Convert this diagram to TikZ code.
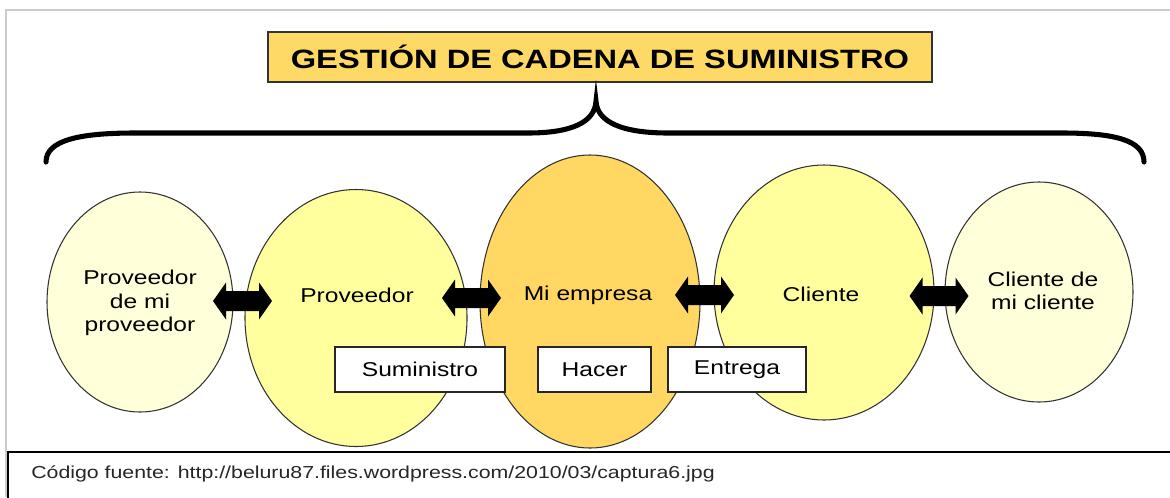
\documentclass[tikz,border=0pt]{standalone}
\usepackage{fontspec}
\setmainfont{Liberation Sans}[FakeStretch=1.23]
\usetikzlibrary{shapes.geometric}
\definecolor{palecream}{HTML}{FFFFDA}
\definecolor{lightyel}{HTML}{FFFF9E}
\definecolor{gold}{HTML}{FFD762}
\definecolor{titlegold}{HTML}{FFD966}
\definecolor{framegray}{HTML}{CCCCCC}
\begin{document}
\begin{tikzpicture}[x=0.75pt,y=-0.75pt,
  ell/.style={ellipse, draw=black!80, line width=0.8pt, inner sep=0pt},
  lbl/.style={font=\fontsize{15}{17.6}\selectfont, align=center, inner sep=0pt},
  stagebox/.style={draw=black!85, line width=0.8pt, fill=white, inner sep=0pt,
    minimum height=33.75pt, font=\fontsize{15}{17.6}\selectfont},
  dblarrow/.pic={\fill[black] (-29.5,0) -- (-16.5,-18.5) -- (-16.5,-10) -- (16.5,-10)
      -- (16.5,-18.5) -- (29.5,0) -- (16.5,18.5) -- (16.5,10) -- (-16.5,10)
      -- (-16.5,18.5) -- cycle;}
]
\useasboundingbox (0,0) rectangle (1170,497);
\fill[white] (0,0) rectangle (1170,497);
% outer frame
\draw[framegray, line width=1.5pt] (6,497) -- (6,10) -- (1170,10);
% title
\node[draw=black!80, line width=0.8pt, fill=titlegold, minimum width=498pt,
  minimum height=37.5pt, inner sep=0pt,
  font=\fontsize{19.9}{22}\selectfont\bfseries] (title) at (600,57)
  {GESTIÓN DE CADENA DE SUMINISTRO};
% brace
\draw[black, line width=3.8pt, line cap=round]
  (46,162) .. controls (46,140) and (80,133) .. (135,133) -- (528,133)
  .. controls (572,133) and (595,122) .. (596,101)
  .. controls (597,122) and (622,133) .. (668,133) -- (1062,133)
  .. controls (1114,133) and (1144,140) .. (1144,162);
% ellipses
\node[ell, fill=palecream, minimum width=139.5pt, minimum height=165pt] (e1) at (140,302) {};
\node[ell, fill=lightyel, minimum width=166.5pt, minimum height=192.75pt] (e2) at (356,318) {};
\node[ell, fill=gold, minimum width=165pt, minimum height=219.75pt] (e3) at (590,301.5) {};
\node[ell, fill=lightyel, minimum width=165pt, minimum height=191.25pt] (e4) at (824,292.5) {};
\node[ell, fill=palecream, minimum width=141pt, minimum height=165pt] (e5) at (1039,292) {};
% labels
\node[lbl] (t1) at (140,303) {Proveedor\\de mi\\proveedor};
\node[lbl] (t2) at (357,295) {Proveedor};
\node[lbl] (t3) at (588,295) {Mi empresa};
\node[lbl] (t4) at (821,294) {Cliente};
\node[lbl] (t5) at (1043,291) {Cliente de\\mi cliente};
% arrows
\coordinate (a12) at (242.5,301);
\coordinate (a23) at (471.5,298);
\coordinate (a34) at (704.5,295);
\coordinate (a45) at (939,296);
\pic at (a12) {dblarrow};
\pic at (a23) {dblarrow};
\pic at (a34) {dblarrow};
\pic at (a45) {dblarrow};
% stage boxes
\node[stagebox, minimum width=127.5pt] (b1) at (420,369.5) {Suministro};
\node[stagebox, minimum width=84.75pt] (b2) at (594.5,369.5) {Hacer};
\node[stagebox, minimum width=103.5pt] (b3) at (737,369.5) {Entrega};
% caption
\draw[black, line width=1.1pt] (8,500) -- (8,452) -- (1172,452);
\node[anchor=base west, inner sep=0pt, font=\fontsize{13}{15}\selectfont, text=black!85]
  (cap) at (31,478) {Código fuente: http://beluru87.files.wordpress.com/2010/03/captura6.jpg};
\end{tikzpicture}
\end{document}
